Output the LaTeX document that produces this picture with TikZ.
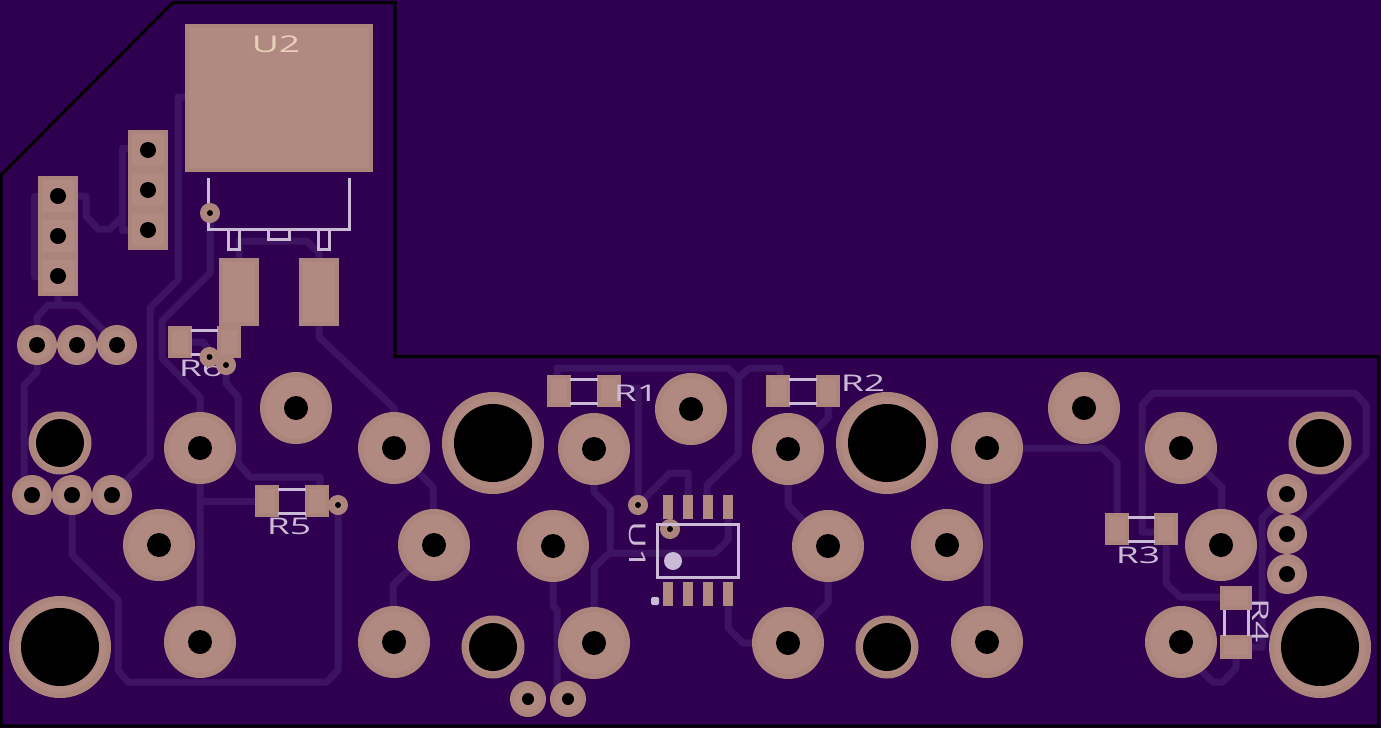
\documentclass[tikz,border=0pt]{standalone}
\usepackage{fontspec}
\usepackage{graphicx}
\setmainfont{Open Sans}
\definecolor{board}{RGB}{48,0,80}
\definecolor{trace}{RGB}{62,20,98}
\definecolor{copper}{RGB}{176,138,128}
\definecolor{copperedge}{RGB}{171,132,124}
\definecolor{silk}{RGB}{203,186,214}
\definecolor{silkpad}{RGB}{232,208,184}
\newcommand{\silktext}[1]{\scalebox{1.62}[1]{#1}}
\tikzset{
  wire/.style={draw=trace,line width=7pt,line join=round,line cap=round},
  silkline/.style={draw=silk,line width=3pt},
  smtpad/.style={rectangle,draw=copperedge,fill=copper,line width=4pt,inner sep=0pt},
  holepad/.style={circle,draw=copperedge,fill=copper,line width=5pt,inner sep=0pt},
  silklabel/.style={text=silk,inner sep=0pt,font=\fontsize{23}{23}\selectfont},
}
\begin{document}
\begin{tikzpicture}[x=1pt,y=-1pt]
\useasboundingbox (0,0) rectangle (1381,728);
\fill[board] (0,0) rectangle (1381,728);

% Traces
\draw[wire] (135,148) -- (122,148) -- (122,230) -- (135,230);
\draw[wire] (70,196) -- (86,196) -- (86,216) -- (98,229) -- (110,229) -- (122,217);
\draw[wire] (45,196) -- (34,196) -- (34,276) -- (45,276);
\draw[wire] (58,290) -- (58,305) -- (78,305) -- (110,337);
\draw[wire] (58,305) -- (48,305) -- (37,317) -- (37,372) -- (24,385) -- (24,490);
\draw[wire] (190,97) -- (178,97) -- (178,280) -- (150,308) -- (150,457) -- (122,485);
\draw[wire] (210,213) -- (210,273) -- (162,321) -- (162,358) -- (200,397) -- (200,642);
\draw[wire] (200,501) -- (262,501);
\draw[wire] (192,342) -- (203,342) -- (209,350);
\draw[wire] (226,365) -- (226,383) -- (238,397) -- (238,463) -- (250,477) -- (320,477) -- (320,490);
\draw[wire] (338,505) -- (338,670) -- (327,682) -- (128,682) -- (118,670) -- (118,600) -- (72,555) -- (72,495);
\draw[wire] (239,265) -- (239,241) -- (307,241) -- (319,253) -- (319,265);
\draw[wire] (319,320) -- (319,337) -- (394,408) -- (394,448) -- (433,487) -- (434,545) -- (393,585) -- (394,642);
\draw[wire] (553,546) -- (553,606) -- (557,610) -- (557,690);
\draw[wire] (594,449) -- (594,492) -- (610,508) -- (610,552) -- (594,568) -- (594,643);
\draw[wire] (610,553) -- (715,553) -- (728,540) -- (728,510);
\draw[wire] (615,388) -- (638,388) -- (638,505) -- (670,473) -- (688,473) -- (688,500);
\draw[wire] (557,380) -- (557,368) -- (728,368) -- (738,378) -- (750,368) -- (780,368) -- (780,380);
\draw[wire] (738,378) -- (738,455) -- (707,485) -- (707,500);
\draw[wire] (828,400) -- (828,418) -- (812,434);
\draw[wire] (788,449) -- (788,505) -- (828,546) -- (828,603) -- (788,643) -- (743,643) -- (728,628) -- (728,600);
\draw[wire] (987,642) -- (987,448) -- (1102,448) -- (1117,462) -- (1117,520);
\draw[wire] (1160,532) -- (1142,532) -- (1142,405) -- (1153,393) -- (1355,393) -- (1366,405) -- (1366,455) -- (1287,534);
\draw[wire] (1166,540) -- (1166,583) -- (1180,597) -- (1225,597);
\draw[wire] (1181,448) -- (1222,487) -- (1221,545);
\draw[wire] (1287,494) -- (1262,518) -- (1262,647) -- (1245,647);
\draw[wire] (1236,650) -- (1236,668) -- (1223,682) -- (1213,682) -- (1190,660);

% Through hole pads
\foreach \x/\y/\nm in {200/448/a,394/448/b,594/449/c,788/449/d,987/448/e,1181/448/f,
    296/408/g,691/409/h,1084/408/i,
    159/545/j,434/545/k,553/546/l,828/546/m,947/545/n,1221/545/o,
    200/642/p,394/642/q,594/643/r,788/643/s,987/642/t,1181/642/u}{
  \node[holepad,minimum size=67pt] (pad\nm) at (\x,\y) {};
  \fill[black] (pad\nm) circle (12pt);
}
% Mounting holes
\foreach \x/\y/\nm in {60/647/a,1320/647/b,493/443/c,887/443/d}{
  \node[holepad,minimum size=97pt] (mountbig\nm) at (\x,\y) {};
  \fill[black] (mountbig\nm) circle (39pt);
}
\foreach \x/\y/\nm in {60/443/a,1320/443/b,493/647/c,887/647/d}{
  \node[holepad,minimum size=58pt] (mount\nm) at (\x,\y) {};
  \fill[black] (mount\nm) circle (24pt);
}
% Small pads
\foreach \x/\y/\nm in {37/345/a,77/345/b,117/345/c,32/495/d,72/495/e,112/495/f,
    1287/494/i,1287/534/j,1287/574/k}{
  \node[holepad,minimum size=35pt] (small\nm) at (\x,\y) {};
  \fill[black] (small\nm) circle (8pt);
}
\foreach \x/\nm in {528/g,568/h}{
  \node[holepad,minimum size=31pt] (small\nm) at (\x,699) {};
  \fill[black] (small\nm) circle (6pt);
}

% Headers
\foreach \y/\nm in {196/a,236/b,276/c}{
  \node[smtpad,minimum width=36pt,minimum height=36pt] (headl\nm) at (58,\y) {};
  \fill[black] (headl\nm) circle (8pt);
}
\foreach \y/\nm in {150/a,190/b,230/c}{
  \node[smtpad,minimum width=36pt,minimum height=36pt] (headr\nm) at (148,\y) {};
  \fill[black] (headr\nm) circle (8pt);
}

% U2
\node[smtpad,minimum width=184pt,minimum height=144pt] (utwo) at (279,98) {};
\node[smtpad,minimum width=36pt,minimum height=64pt] (utwoa) at (239,292) {};
\node[smtpad,minimum width=36pt,minimum height=64pt] (utwob) at (319,292) {};
\node[text=silkpad,inner sep=0pt,font=\fontsize{23}{23}\selectfont] (utwolabel) at (276,44) {\silktext{U2}};
\draw[silkline] (208,178) -- (208,229) -- (349,229) -- (349,178);
\draw[silkline] (228,229) -- (228,249) -- (239,249) -- (239,229);
\draw[silkline] (268,229) -- (268,239) -- (289,239) -- (289,229);
\draw[silkline] (318,229) -- (318,249) -- (329,249) -- (329,229);

% Resistors
\foreach \x/\y/\dx/\nm in {180/342/49/six,267/501/50/five,559/391/50/one,778/391/50/two,1117/529/49/three}{
  \node[smtpad,minimum width=20pt,minimum height=28pt] (r\nm a) at (\x,\y) {};
  \node[smtpad,minimum width=20pt,minimum height=28pt] (r\nm b) at (\x+\dx,\y) {};
  \draw[silkline] (\x+11,\y-12) -- (\x+\dx-11,\y-12);
  \draw[silkline] (\x+11,\y+12) -- (\x+\dx-11,\y+12);
}
\node[smtpad,minimum width=28pt,minimum height=20pt] (rfoura) at (1236,598) {};
\node[smtpad,minimum width=28pt,minimum height=20pt] (rfourb) at (1236,647) {};
\draw[silkline] (1224,610) -- (1224,636);
\draw[silkline] (1248,610) -- (1248,636);

\node[silklabel] (rsixlabel) at (201,368) {\silktext{R6}};
\node[silklabel] (rfivelabel) at (289,526) {\silktext{R5}};
\node[silklabel] (ronelabel) at (636,393) {\silktext{R1}};
\node[silklabel] (rtwolabel) at (863,383) {\silktext{R2}};
\node[silklabel] (rthreelabel) at (1138,555) {\silktext{R3}};
\node[silklabel,rotate=-90] (rfourlabel) at (1261,621) {\silktext{R4}};

% Vias
\foreach \x/\y/\nm in {210/213/a,209.5/357/b,226/365/c,338/505/d,638/505/e,670/529/f}{
  \node[holepad,minimum size=15pt] (via\nm) at (\x,\y) {};
  \fill[black] (via\nm) circle (3pt);
}

% U1
\foreach \x/\nm in {668/a,688/b,708/c,728/d}{
  \node[rectangle,fill=copper,inner sep=0pt,minimum width=10pt,minimum height=24pt] (pin\nm) at (\x,507) {};
  \node[rectangle,fill=copper,inner sep=0pt,minimum width=10pt,minimum height=24pt] (pinb\nm) at (\x,594) {};
}
\draw[silkline] (657,524) rectangle (738,577);
\fill[silk] (673,561) circle (9pt);
\fill[silk,rounded corners=1.5pt] (651,597) rectangle (659,605);
\node[silklabel,rotate=-90] (uonelabel) at (638,546) {\silktext{U1}};

% Outline
\draw[black,line width=3pt,line join=miter] (1,175) -- (173,2.5) -- (395,2.5) -- (395,356.5) -- (1378.5,356.5) -- (1378.5,726) -- (1,726) -- cycle;
\end{tikzpicture}
\end{document}
